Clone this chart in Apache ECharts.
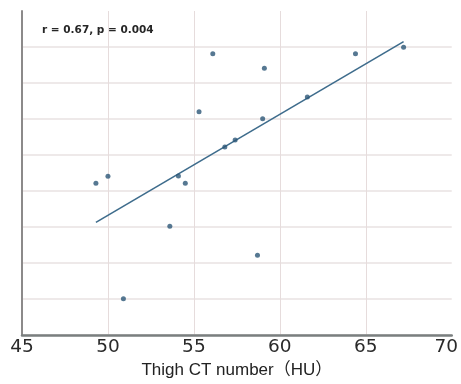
<!DOCTYPE html>
<html>
<head>
<meta charset="utf-8">
<script src="https://cdn.jsdelivr.net/npm/echarts@6/dist/echarts.min.js"></script>
<style>html,body{margin:0;padding:0;background:#fff;overflow:hidden;}#c{width:461px;height:384px;}</style>
</head>
<body>
<div id="c"></div>
<script>
var thighCT = [49.3, 50.0, 50.9, 53.6, 54.1, 54.5, 55.3, 56.1, 56.8, 57.4, 58.7, 59.0, 59.1, 61.6, 64.4, 67.2];
var yValues = [4.22, 4.41, 1.01, 3.02, 4.42, 4.22, 6.20, 7.81, 5.22, 5.42, 2.22, 6.01, 7.41, 6.61, 7.81, 7.99];
var fitX = [49.3, 67.2];
var fitY = [3.13, 8.15];
var xTicks = [45, 50, 55, 60, 65, 70];
var xName = 'Thigh CT number（HU）';
var statText = 'r = 0.67, p = 0.004';

var pts = thighCT.map(function (x, i) { return [x, yValues[i]]; });
var fit = fitX.map(function (x, i) { return [x, fitY[i]]; });
var gridH = '#e9e2e2';
var gridV = '#e6dcdc';
var xMax = xTicks[xTicks.length - 1];
var chart = echarts.init(document.getElementById('c'), null, {renderer: 'canvas', width: 461, height: 384});
chart.setOption({
  animation: false,
  backgroundColor: '#fff',
  grid: {left: 22, right: 7, top: 11, bottom: 40, containLabel: false},
  graphic: [{
    type: 'text', left: 42, top: 25,
    style: {text: statText, font: 'bold 10.5px "DejaVu Sans", sans-serif', fill: '#262626'}
  }],
  xAxis: {
    type: 'value', min: xTicks[0], max: xMax, interval: 5,
    name: xName, nameLocation: 'middle', nameGap: 23,
    nameTextStyle: {fontSize: 17, color: '#222', fontFamily: '"Liberation Sans", "Noto Sans CJK JP", sans-serif'},
    axisLine: {show: true, lineStyle: {color: '#7a7f7f', width: 2.5}},
    axisTick: {show: false},
    axisLabel: {
      fontSize: 18.5, color: '#2a2a2a', margin: 3, fontFamily: '"DejaVu Sans", sans-serif',
      formatter: function (v) { return v === xMax ? '{m|' + v + '}' : String(v); },
      rich: {m: {fontSize: 18.5, color: '#2a2a2a', fontFamily: '"DejaVu Sans", sans-serif', padding: [0, 11, 0, 0]}}
    },
    splitLine: {show: true, lineStyle: {color: [gridV, gridV, gridV, gridV, gridV, 'rgba(0,0,0,0)'], width: 1}}
  },
  yAxis: {
    type: 'value', min: 0, max: 9, interval: 1,
    axisLine: {show: true, lineStyle: {color: '#8c8a8a', width: 2}},
    axisTick: {show: false},
    axisLabel: {show: false},
    splitLine: {show: true, lineStyle: {color: [gridH, gridH, gridH, gridH, gridH, gridH, gridH, gridH, gridH, 'rgba(0,0,0,0)'], width: 1.5}}
  },
  series: [
    {
      type: 'line', data: fit, showSymbol: false, symbol: 'none',
      lineStyle: {color: '#3e6c8c', width: 1.6}, z: 2
    },
    {
      type: 'scatter', data: pts, symbolSize: 5,
      itemStyle: {color: '#2c5677'}, z: 3
    }
  ]
});
</script>
</body>
</html>
